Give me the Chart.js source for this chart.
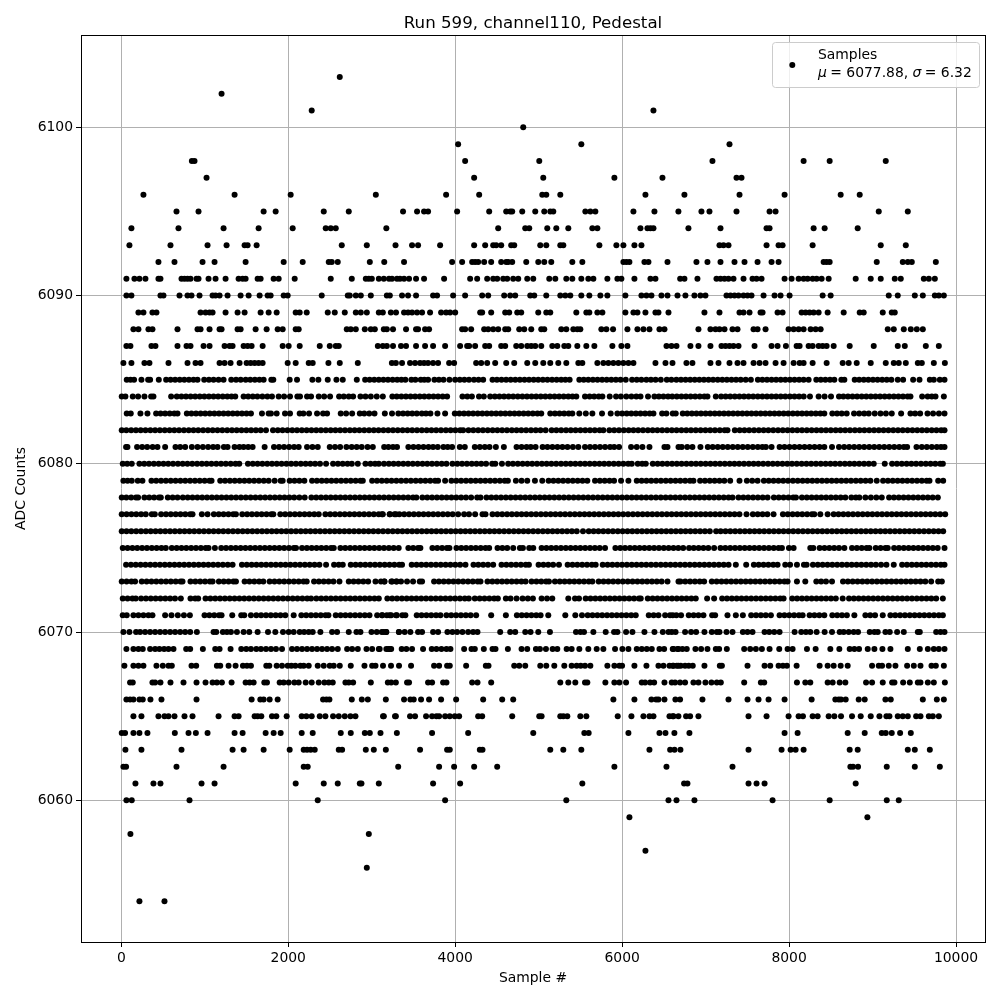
<!DOCTYPE html>
<html>
<head>
<meta charset="utf-8">
<title>Run 599, channel110, Pedestal</title>
<script src="https://cdn.jsdelivr.net/npm/chart.js@4"></script>
<style>
  html, body { margin: 0; padding: 0; background: #fff; }
  canvas { display: block; }
</style>
</head>
<body>
<canvas id="chart" width="1000" height="1000"></canvas>
<script>
// sample numbers, one list per ADC level
const s6103 = [2617];
const s6102 = [1201];
const s6101 = [2281,6375];
const s6100 = [4815];
const s6099 = [4035,5511,7286];
const s6098 = [845,877,4119,5007,7082,8174,8486,9158];
const s6097 = [1021,4227,5055,5907,6483,7370,7430];
const s6096 = [265,1357,2029,3049,3891,4287,5043,5091,5259,6279,6746,7406,7946,8618,8846];
const s6095 = [661,925,1705,1849,2425,2725,3375,3543,3627,3675,4023,4407,4611,4659,4683,4803,4959,5067,5139,5175,5559,5619,5679,6135,6387,6674,6950,7046,7370,7766,7838,9074,9422];
const s6094 = [121,685,1225,1645,2053,2449,2509,2569,3175,4515,4839,4887,5103,5211,5355,5643,5703,6219,6303,6339,6375,6794,7178,7730,7766,8294,8426,8822];
const s6093 = [97,589,1033,1261,1477,1513,1621,2641,2941,3285,3483,3555,3819,4227,4359,4455,4491,4551,4671,4707,5019,5091,5259,5295,5727,5931,6015,6147,6231,7166,7214,7274,7730,7874,7922,8282,9098,9398];
const s6092 = [445,637,973,1117,1489,1945,2173,2485,2521,2593,2977,3150,3387,3963,4083,4203,4239,4275,4347,4431,4551,4611,4635,4683,4851,4995,5067,5151,5403,5523,6015,6051,6087,6267,6315,6543,6890,7022,7178,7346,7466,7622,7790,7874,8414,8450,8486,9050,9362,9422,9470,9758];
const s6091 = [61,157,217,289,445,469,721,757,793,829,901,925,1045,1129,1249,1405,1453,1489,1633,1669,1825,1885,2077,2509,2761,2929,2965,3001,3085,3145,3207,3243,3303,3339,3387,3447,3531,3627,3867,4179,4263,4383,4455,4503,4575,4623,4695,4755,4863,4935,5127,5199,5331,5403,5511,5595,5655,5823,5943,5991,6147,6339,6399,6695,6746,6902,7130,7178,7226,7274,7334,7454,7562,7610,7670,7946,8030,8114,8174,8222,8282,8330,8390,8474,8798,8978,9098,9266,9338,9614,9674,9746];
const s6090 = [61,121,469,505,697,793,841,937,1093,1129,1177,1273,1429,1525,1657,1753,1789,1945,1993,2401,2713,2737,2809,2869,2989,3181,3217,3363,3435,3531,3735,3783,3975,4119,4323,4395,4587,4659,4719,4899,4947,5091,5259,5319,5379,5511,5607,5739,5823,6039,6231,6291,6351,6471,6543,6663,6758,6866,6938,6998,7250,7298,7346,7394,7454,7502,7550,7694,7826,7898,8006,8402,8498,9194,9302,9506,9602,9746,9794,9854];
const s6089 = [205,265,373,421,949,1009,1057,1093,1249,1393,1477,1669,1765,1861,2089,2137,2221,2473,2557,2677,2809,2869,2941,3085,3133,3229,3291,3387,3435,3483,3543,3603,3699,3831,3891,3939,4000,4299,4323,4431,4599,4647,4743,4791,4995,5091,5139,5451,5571,5607,5703,5763,6039,6135,6183,6279,6399,6435,6555,6986,7166,7406,7454,7526,7658,7682,7862,7922,8150,8198,8246,8294,8354,8462,8654,8846,8894,9122,9230,9266];
const s6088 = [145,205,325,373,673,913,949,1057,1177,1201,1393,1429,1609,1741,1873,1933,2089,2125,2701,2749,2809,2917,2989,3037,3145,3181,3255,3411,3531,3555,3639,3687,4083,4119,4191,4347,4395,4455,4515,4599,4635,4767,4827,4911,5031,5067,5271,5331,5415,5463,5499,5751,5811,5891,6063,6183,6255,6327,6447,6507,6914,7058,7118,7166,7226,7322,7382,7574,7622,7718,7994,8054,8114,8174,8258,8318,8378,9182,9254,9374,9458,9530,9602];
const s6087 = [61,109,361,409,673,781,829,985,1057,1237,1297,1333,1465,1513,1561,1693,1933,2005,2137,2377,2497,2569,2605,3073,3133,3181,3255,3351,3411,3531,3639,3735,3879,4059,4143,4167,4239,4359,4407,4551,4599,4731,4791,4863,4911,4959,5031,5163,5223,5307,5355,5463,5571,5667,5883,5991,6063,6531,6591,6651,6818,6914,7058,7190,7238,7286,7334,7394,7586,7790,7862,7962,8090,8126,8234,8282,8354,8402,8450,8534,8726,9014,9302,9386,9638,9794];
const s6086 = [25,121,277,337,565,793,889,949,1177,1237,1309,1417,1501,1549,1597,1645,1693,1993,2089,2245,2293,2481,2617,2833,3241,3289,3363,3459,3519,3579,3627,3675,3735,3795,3927,3987,4251,4311,4383,4479,4611,4707,4863,4959,5055,5139,5235,5331,5475,5523,5703,5775,5835,5895,5955,6015,6075,6135,6399,6519,6603,6770,6842,7058,7154,7286,7382,7454,7574,7646,7718,7838,7934,8054,8126,8174,8282,8450,8642,8714,8810,8978,9158,9254,9314,9398,9542,9590,9734,9866];
const s6085 = [65,110,153,241,321,345,449,537,590,645,700,755,810,865,913,993,1050,1105,1165,1225,1317,1375,1430,1490,1545,1600,1655,1705,1797,1821,2017,2105,2289,2361,2473,2577,2653,2821,2921,2975,3030,3085,3140,3195,3250,3305,3355,3403,3475,3523,3587,3630,3675,3751,3805,3860,3931,3999,4055,4110,4165,4225,4280,4335,4447,4500,4555,4610,4665,4720,4775,4830,4885,4940,4995,5050,5105,5160,5215,5270,5320,5371,5487,5540,5595,5650,5705,5760,5815,5870,5925,5980,6043,6119,6175,6230,6290,6345,6400,6463,6535,6590,6650,6705,6760,6815,6870,6925,6980,7035,7090,7145,7200,7255,7310,7365,7420,7480,7542,7626,7680,7735,7790,7845,7900,7955,8010,8065,8120,8174,8234,8326,8380,8435,8490,8542,8626,8662,8786,8840,8895,8950,9005,9060,9115,9170,9225,9302,9366,9486,9562,9686,9734,9806,9862];
const s6084 = [5,49,137,201,277,357,385,597,665,720,775,830,885,940,995,1050,1105,1160,1215,1270,1320,1365,1465,1520,1575,1630,1690,1750,1805,1885,1950,2021,2109,2141,2225,2273,2365,2430,2501,2609,2665,2725,2777,2865,2925,2989,3060,3133,3247,3300,3355,3410,3465,3520,3575,3630,3685,3740,3795,3850,3903,4087,4145,4200,4285,4343,4419,4475,4530,4585,4640,4695,4750,4805,4860,4915,4970,5025,5080,5135,5190,5245,5300,5355,5405,5451,5555,5610,5665,5720,5763,5851,5927,5985,6050,6111,6170,6220,6310,6387,6440,6495,6550,6600,6655,6710,6765,6820,6875,6930,6985,7022,7122,7186,7240,7295,7350,7405,7460,7515,7570,7625,7680,7735,7790,7845,7900,7955,8010,8065,8120,8175,8250,8354,8425,8502,8598,8650,8705,8760,8815,8870,8925,8980,9035,9090,9145,9200,9255,9310,9365,9420,9454,9594,9660,9710,9754,9854];
const s6083 = [65,113,229,313,417,470,525,580,635,673,785,840,895,950,1005,1060,1115,1170,1225,1280,1335,1390,1445,1500,1553,1685,1765,1793,1861,1961,2021,2137,2181,2249,2345,2417,2465,2629,2693,2765,2857,2910,2970,3033,3157,3243,3319,3375,3430,3485,3540,3600,3650,3703,3787,3879,3995,4050,4105,4160,4215,4270,4325,4380,4435,4490,4545,4600,4655,4710,4765,4820,4875,4930,4985,5031,5139,5195,5250,5305,5360,5403,5487,5565,5643,5759,5863,5943,6000,6055,6110,6165,6220,6275,6330,6375,6479,6530,6606,6642,6726,6780,6835,6890,6945,7000,7055,7110,7165,7220,7275,7330,7385,7440,7495,7550,7605,7660,7715,7770,7825,7880,7935,7990,8045,8100,8155,8210,8265,8320,8375,8422,8518,8575,8630,8690,8778,8840,8900,8954,9026,9095,9160,9230,9342,9454,9510,9570,9658,9725,9795,9862];
const s6082 = [5,60,118,175,232,290,348,405,462,520,578,635,692,750,808,865,922,980,1038,1095,1152,1210,1268,1325,1382,1440,1498,1555,1612,1670,1733,1817,1875,1932,1990,2048,2105,2162,2220,2278,2335,2392,2450,2508,2565,2622,2680,2738,2795,2852,2910,2968,3025,3082,3140,3198,3255,3312,3370,3428,3485,3542,3600,3658,3715,3772,3830,3888,3945,4002,4060,4095,4159,4217,4275,4332,4390,4448,4505,4562,4620,4678,4735,4792,4850,4908,4965,5022,5083,5155,5212,5270,5328,5385,5442,5500,5558,5615,5672,5730,5775,5847,5905,5962,6020,6078,6135,6192,6250,6308,6365,6422,6480,6538,6595,6652,6710,6768,6825,6882,6940,6998,7055,7112,7170,7228,7262,7350,7408,7465,7522,7580,7638,7695,7752,7810,7868,7925,7982,8040,8098,8155,8212,8270,8328,8385,8442,8500,8558,8615,8672,8730,8788,8845,8902,8960,9018,9075,9132,9190,9248,9305,9362,9420,9478,9535,9592,9650,9708,9765,9822,9862];
const s6081 = [57,73,189,250,310,375,433,525,649,705,765,845,913,977,1040,1100,1153,1229,1273,1357,1415,1465,1520,1573,1717,1829,1890,1950,2010,2070,2125,2225,2290,2353,2497,2560,2621,2697,2760,2820,2880,2950,3013,3149,3200,3255,3303,3439,3500,3560,3620,3680,3735,3791,3859,3910,3963,4055,4115,4235,4295,4355,4411,4487,4583,4735,4795,4855,4905,4963,5047,5105,5165,5225,5285,5345,5410,5475,5555,5615,5675,5735,5795,5855,5905,5963,6107,6175,6243,6327,6507,6543,6675,6714,6780,6842,6938,7026,7085,7145,7205,7265,7325,7385,7445,7505,7565,7625,7680,7722,7790,7886,7945,8005,8065,8125,8185,8245,8305,8365,8422,8514,8598,8660,8720,8780,8840,8900,8960,9020,9080,9140,9200,9260,9320,9375,9414,9526,9590,9650,9710,9770,9820,9862];
const s6080 = [17,70,125,217,275,332,390,448,505,562,620,678,735,792,850,908,965,1022,1080,1138,1195,1252,1310,1368,1413,1517,1575,1632,1690,1748,1805,1862,1920,1978,2035,2092,2150,2208,2265,2322,2380,2453,2537,2595,2652,2710,2761,2833,2925,2985,3040,3085,3147,3205,3262,3320,3378,3435,3492,3550,3608,3665,3722,3780,3838,3895,3967,4025,4082,4140,4198,4255,4312,4370,4443,4480,4560,4635,4692,4750,4808,4865,4922,4980,5038,5095,5152,5210,5268,5325,5382,5440,5498,5555,5612,5670,5728,5785,5842,5900,5958,6015,6072,6115,6187,6240,6283,6367,6425,6482,6540,6598,6655,6712,6770,6828,6885,6942,7000,7058,7115,7172,7230,7288,7345,7402,7460,7518,7575,7632,7690,7748,7805,7862,7920,7978,8035,8092,8150,8208,8265,8322,8380,8438,8495,8552,8610,8668,8725,8782,8840,8898,8955,9014,9146,9234,9292,9350,9408,9465,9522,9580,9638,9695,9752,9810,9842];
const s6079 = [25,75,125,197,253,361,418,476,534,592,650,708,766,824,882,940,998,1056,1081,1185,1243,1301,1359,1417,1475,1533,1591,1649,1707,1765,1837,1909,1933,2017,2075,2133,2193,2285,2343,2401,2459,2517,2575,2633,2691,2749,2807,2865,2893,3005,3063,3121,3179,3237,3295,3353,3411,3469,3527,3585,3643,3701,3759,3795,3879,3955,4013,4071,4129,4187,4245,4303,4361,4419,4477,4535,4593,4631,4727,4795,4863,4955,5043,5119,5177,5235,5293,5351,5409,5467,5525,5583,5675,5733,5791,5849,5903,5987,6075,6175,6233,6291,6349,6407,6465,6523,6581,6639,6697,6755,6813,6854,6934,6992,7050,7108,7166,7224,7294,7406,7494,7558,7622,7698,7756,7814,7872,7930,7988,8046,8104,8162,8220,8278,8336,8394,8452,8510,8568,8626,8684,8742,8800,8858,8916,8974,9050,9126,9184,9242,9300,9358,9416,9474,9532,9590,9648,9682,9786,9846];
const s6078 = [5,60,118,176,201,277,335,393,451,473,557,615,673,737,795,853,911,969,1027,1085,1143,1201,1259,1317,1375,1433,1491,1549,1607,1665,1723,1781,1839,1897,1955,2013,2071,2133,2197,2277,2335,2393,2451,2509,2567,2625,2683,2741,2799,2857,2915,2973,3031,3089,3147,3205,3263,3321,3379,3437,3495,3535,3607,3665,3723,3781,3839,3897,3955,4013,4071,4129,4191,4263,4303,4375,4433,4491,4549,4607,4665,4723,4781,4839,4897,4955,5013,5071,5129,5187,5245,5303,5361,5419,5477,5535,5593,5651,5709,5767,5825,5883,5941,5999,6057,6115,6173,6231,6289,6347,6405,6463,6521,6579,6637,6695,6753,6811,6869,6927,6985,7043,7101,7159,7217,7275,7322,7394,7452,7510,7568,7626,7684,7742,7818,7876,7934,7992,8050,8082,8154,8212,8270,8328,8386,8444,8502,8560,8618,8674,8746,8800,8842,8914,8980,9045,9110,9198,9256,9314,9372,9430,9488,9546,9604,9662,9720,9782];
const s6077 = [5,63,121,179,237,293,365,401,477,535,593,651,709,767,825,853,965,1033,1109,1167,1225,1283,1341,1373,1449,1507,1565,1623,1681,1739,1797,1821,1905,1963,2021,2079,2137,2195,2253,2311,2365,2445,2503,2561,2619,2677,2735,2793,2851,2909,2967,3025,3083,3133,3217,3290,3123,3215,3273,3331,3389,3447,3505,3563,3621,3679,3737,3795,3853,3911,3969,4035,4107,4165,4239,4327,4363,4447,4505,4563,4621,4679,4737,4795,4853,4911,4969,5027,5085,5143,5201,5259,5317,5375,5433,5491,5549,5607,5665,5723,5781,5839,5897,5955,6013,6071,6129,6187,6245,6303,6361,6419,6477,6535,6593,6651,6709,6767,6825,6883,6941,6999,7057,7115,7173,7231,7289,7347,7405,7490,7566,7624,7682,7740,7814,7926,7984,8042,8100,8158,8216,8274,8302,8374,8462,8534,8592,8650,8708,8766,8824,8882,8940,8998,9056,9114,9172,9230,9288,9346,9404,9462,9520,9578,9636,9694,9752,9810,9870];
const s6076 = [5,62,120,178,236,294,352,410,468,526,584,642,700,758,816,874,932,990,1048,1106,1164,1222,1280,1338,1396,1454,1512,1570,1628,1686,1744,1802,1860,1918,1976,2034,2092,2150,2208,2266,2324,2382,2440,2498,2556,2614,2672,2730,2788,2846,2904,2962,3020,3078,3136,3194,3252,3310,3368,3426,3484,3542,3600,3658,3716,3774,3832,3890,3948,4006,4064,4122,4180,4238,4296,4354,4412,4470,4528,4586,4644,4702,4760,4818,4876,4934,4992,5050,5108,5166,5224,5282,5340,5398,5456,5531,5600,5658,5716,5774,5832,5890,5948,6006,6064,6122,6180,6238,6296,6354,6412,6470,6528,6586,6644,6702,6760,6818,6876,6934,6992,7050,7126,7180,7238,7296,7354,7412,7470,7528,7586,7644,7702,7760,7818,7876,7934,7992,8050,8108,8166,8224,8282,8340,8398,8456,8514,8572,8630,8688,8746,8804,8862,8920,8978,9036,9094,9152,9210,9268,9326,9384,9442,9500,9558,9616,9674,9732,9790,9846];
const s6075 = [17,75,133,191,249,307,365,423,481,533,605,663,721,779,837,895,953,1011,1045,1121,1197,1255,1313,1371,1429,1487,1545,1603,1661,1719,1777,1835,1893,1951,2009,2067,2093,2165,2223,2281,2339,2397,2455,2513,2545,2625,2683,2741,2799,2857,2915,2973,3031,3089,3147,3205,3263,3323,3439,3497,3555,3583,3727,3785,3843,3901,3931,4015,4073,4131,4189,4247,4305,4363,4407,4507,4565,4623,4695,4775,4811,4887,4935,5035,5093,5151,5209,5267,5325,5383,5441,5499,5557,5615,5673,5731,5795,5919,5977,6035,6093,6151,6209,6267,6325,6383,6441,6499,6557,6615,6673,6731,6802,6858,6916,6974,7032,7102,7178,7236,7294,7352,7410,7468,7526,7584,7642,7700,7758,7816,7874,7914,7998,8054,8254,8290,8366,8424,8482,8540,8598,8662,8754,8812,8870,8928,8962,9038,9096,9154,9182,9258,9316,9374,9432,9490,9548,9606,9664,9722,9780,9862];
const s6074 = [57,115,173,231,289,347,405,463,521,579,637,695,753,811,869,927,985,1043,1101,1159,1217,1275,1333,1445,1503,1561,1619,1677,1735,1793,1851,1909,1967,2025,2083,2141,2199,2257,2315,2373,2453,2549,2605,2653,2749,2807,2865,2923,2981,3039,3097,3155,3213,3271,3329,3363,3479,3537,3595,3653,3711,3769,3827,3885,3943,4001,4059,4123,4219,4277,4335,4393,4455,4555,4613,4671,4729,4787,4845,4883,4999,5057,5115,5173,5243,5347,5405,5463,5521,5579,5637,5683,5767,5825,5883,5941,5999,6057,6115,6173,6231,6289,6347,6405,6463,6521,6579,6637,6695,6753,6811,6869,6927,6985,7043,7101,7159,7217,7275,7362,7486,7578,7636,7694,7752,7810,7862,7954,8012,8094,8178,8210,8286,8344,8402,8460,8518,8576,8634,8692,8750,8808,8866,8924,8982,9040,9102,9166,9254,9354,9412,9470,9528,9586,9644,9702,9760,9818,9862];
const s6073 = [5,63,121,165,245,303,361,419,477,535,593,651,709,733,829,887,945,1003,1061,1093,1169,1227,1285,1343,1373,1477,1535,1593,1651,1701,1777,1835,1893,1951,2009,2067,2125,2183,2221,2309,2367,2425,2483,2541,2613,2725,2783,2841,2899,2957,3045,3153,3245,3300,3110,3150,3235,3293,3351,3423,3495,3575,3603,3747,3805,3863,3921,3979,4037,4095,4153,4211,4269,4303,4387,4445,4503,4561,4619,4677,4735,4793,4843,4915,4973,5031,5089,5123,5195,5253,5311,5369,5427,5485,5543,5601,5643,5719,5777,5835,5893,5951,6009,6067,6125,6183,6241,6299,6357,6415,6473,6543,6675,6698,6756,6814,6872,6930,6982,7074,7132,7190,7248,7306,7364,7422,7480,7538,7596,7654,7712,7770,7828,7886,7944,7982,8094,8194,8326,8384,8442,8514,8646,8704,8762,8820,8878,8936,8994,9052,9110,9168,9226,9284,9342,9400,9458,9516,9574,9632,9702,9786,9830];
const s6072 = [17,75,133,173,237,295,353,411,469,527,585,643,713,829,885,921,1009,1067,1125,1183,1241,1299,1357,1415,1473,1531,1589,1647,1705,1763,1821,1879,1937,1995,2053,2111,2169,2227,2273,2337,2395,2453,2511,2569,2627,2685,2743,2801,2859,2917,2975,3033,3085,3187,3245,3303,3361,3419,3477,3535,3593,3651,3709,3767,3825,3883,3941,3999,4057,4115,4163,4235,4293,4351,4409,4467,4511,4607,4663,4735,4807,4870,4931,5035,5100,5163,5355,5435,5483,5563,5621,5679,5737,5795,5853,5911,5969,6027,6085,6143,6201,6223,6307,6365,6423,6481,6539,6597,6655,6713,6771,6829,6882,7018,7102,7198,7256,7314,7372,7430,7488,7546,7604,7662,7720,7778,7836,7894,7934,8038,8096,8154,8212,8270,8328,8386,8444,8502,8560,8642,8718,8776,8834,8892,8950,9008,9066,9124,9182,9240,9298,9356,9414,9472,9530,9588,9646,9704,9762,9842];
const s6071 = [17,65,145,205,265,325,373,525,601,677,750,821,997,1055,1113,1171,1201,1329,1437,1473,1553,1617,1675,1733,1791,1849,1907,1965,2065,2157,2215,2273,2331,2389,2447,2481,2569,2627,2685,2743,2801,2859,2917,2973,3065,3123,3181,3233,3301,3127,3215,3291,3367,3403,3539,3597,3655,3713,3771,3823,3895,3953,4011,4069,4127,4185,4251,4431,4607,4739,4797,4855,4913,4971,5023,5115,5319,5439,5519,5587,5645,5703,5761,5819,5877,5935,5993,6051,6109,6163,6319,6377,6435,6515,6573,6606,6650,6706,6798,6856,6914,6974,7078,7114,7262,7362,7446,7546,7604,7662,7720,7782,7886,7944,8002,8060,8118,8162,8246,8304,8362,8422,8518,8576,8634,8692,8782,8914,8972,9030,9122,9214,9272,9330,9388,9446,9504,9562,9620,9678,9736,9794,9842];
const s6070 = [25,97,177,225,285,345,405,465,525,585,645,705,765,825,905,1105,1137,1217,1265,1313,1385,1465,1533,1633,1757,1845,1937,2005,2065,2137,2190,2245,2293,2385,2525,2585,2725,2817,2865,2997,3060,3120,3173,3325,3143,3175,3327,3395,3463,3555,3603,3735,3795,3907,3967,4023,4087,4155,4215,4267,4539,4659,4719,4839,4903,4995,5135,5447,5500,5543,5655,5803,5903,5943,6047,6123,6267,6387,6487,6555,6595,6640,6754,6826,6886,6986,7074,7134,7166,7250,7322,7446,7502,7562,7706,7762,7822,7886,8066,8146,8202,8254,8330,8426,8514,8606,8654,8714,8774,8826,8966,9022,9062,9154,9206,9294,9374,9542,9566,9762,9814,9862];
const s6069 = [61,145,205,257,345,405,457,513,565,625,777,825,977,1125,1177,1309,1437,1497,1553,1617,1673,1733,1793,1853,1925,2045,2105,2165,2225,2285,2345,2405,2465,2525,2593,2705,2765,2833,2937,3005,3085,3197,3233,3095,3175,3215,3359,3415,3483,3615,3719,3775,3835,3895,3943,4107,4195,4235,4343,4447,4483,4631,4795,4863,4967,5015,5087,5167,5223,5335,5395,5487,5595,5695,5775,5915,6003,6075,6175,6235,6295,6355,6447,6503,6615,6675,6606,6662,6722,6774,6878,6946,7022,7122,7162,7254,7462,7534,7602,7674,7766,7882,7982,8042,8214,8318,8494,8602,8726,8782,8838,8942,9022,9118,9214,9422,9566,9662,9734,9794,9862];
const s6068 = [37,145,205,265,421,497,565,605,841,897,1145,1185,1285,1369,1457,1505,1553,1737,1773,1861,1925,1993,2037,2085,2145,2185,2245,2353,2425,2497,2545,2617,2749,2913,3005,3045,3135,3231,3327,3471,3747,3807,3903,3935,4131,4367,4399,4707,4767,4839,5019,5091,5187,5307,5395,5455,5503,5555,5619,5823,5907,5967,5999,6147,6291,6435,6495,6567,6615,6675,6606,6654,6702,6754,6798,6846,6986,7170,7195,7502,7706,7774,7874,7926,7974,8090,8366,8462,8534,8618,8702,8994,9074,9114,9194,9274,9414,9494,9574,9706,9758,9854];
const s6067 = [105,137,373,405,469,589,745,901,1009,1093,1145,1205,1321,1489,1537,1585,1713,1745,1897,1945,2005,2073,2125,2209,2281,2365,2433,2485,2533,2685,2725,2777,2989,3193,3233,3289,3423,3447,3675,3723,3855,3895,4203,4267,4431,5259,5355,5439,5555,5583,5799,5907,5967,6047,6235,6275,6335,6383,6507,6594,6634,6694,6754,6854,6914,6998,7070,7134,7182,7462,7662,7702,8094,8194,8254,8462,8522,8606,8674,8922,8994,9122,9234,9262,9366,9446,9542,9574,9662,9734,9866];
const s6066 = [61,105,145,217,257,349,481,901,1561,1665,1705,1777,1873,2417,2457,2493,2761,2881,2953,3169,3387,3463,3503,3591,3687,3831,4011,4335,4563,4695,5895,6147,6351,6407,6435,6507,6638,6694,6962,7274,7502,7634,7754,7946,8270,8554,8594,8622,8678,8834,8906,9154,9218,9602,9770,9854];
const s6065 = [145,241,445,517,565,637,757,853,1165,1357,1405,1597,1633,1677,1805,1857,1981,2161,2217,2281,2377,2445,2537,2605,2677,2745,2805,3145,3289,3135,3279,3459,3519,3651,3723,3775,3807,3879,3935,3995,4047,4275,4323,4683,5007,5035,5259,5295,5343,5499,5571,5947,6111,6255,6327,6375,6567,6615,6606,6674,6766,6814,6914,7514,7730,7994,8114,8166,8282,8342,8474,8542,8622,8754,8858,8978,9082,9166,9202,9302,9362,9422,9522,9574,9674,9722,9794];
const s6064 = [5,45,145,217,313,641,805,893,1033,1357,1453,1729,1825,1909,2161,2293,2629,2749,2917,2977,3105,3301,3723,4155,4935,5547,5599,6075,6447,6519,6626,6806,7946,8102,8702,8906,9110,9158,9230,9330,9458];
const s6063 = [49,241,721,1333,1465,1705,2017,2185,2225,2269,2317,2605,2645,2929,3025,3169,3579,3903,3935,4295,4327,5139,5295,5511,6327,6575,6627,6698,7514,7910,8018,8078,8174,8726,8822,9422,9506,9686];
const s6062 = [25,57,661,1225,2185,2233,3317,3807,3987,4227,4503,5907,6531,7322,8734,8766,8826,9170,9506,9806];
const s6061 = [169,385,469,961,1117,2089,2425,2593,2857,2877,3085,3735,4059,5523,6742,6782,7514,7610,7706,8798];
const s6060 = [61,125,817,2353,3879,5331,6555,6651,6866,7802,8486,9170,9314];
const s6059 = [6087,8938];
const s6058 = [109,2965];
const s6057 = [6279];
const s6056 = [2941];
const s6054 = [217,517];

const levels = [6103,6102,6101,6100,6099,6098,6097,6096,6095,6094,6093,6092,6091,6090,6089,6088,6087,6086,6085,6084,6083,6082,6081,6080,6079,6078,6077,6076,6075,6074,6073,6072,6071,6070,6069,6068,6067,6066,6065,6064,6063,6062,6061,6060,6059,6058,6057,6056,6054];
const samplesPerLevel = [s6103,s6102,s6101,s6100,s6099,s6098,s6097,s6096,s6095,s6094,s6093,s6092,s6091,s6090,s6089,s6088,s6087,s6086,s6085,s6084,s6083,s6082,s6081,s6080,s6079,s6078,s6077,s6076,s6075,s6074,s6073,s6072,s6071,s6070,s6069,s6068,s6067,s6066,s6065,s6064,s6063,s6062,s6061,s6060,s6059,s6058,s6057,s6056,s6054];

const xTicks = [0,2000,4000,6000,8000,10000];
const yTicks = [6060,6070,6080,6090,6100];

const points = [];
levels.forEach(function (level, i) {
    samplesPerLevel[i].forEach(function (s) {
        points.push({x: s, y: level});
    });
});

const font = "'DejaVu Sans'";

// frame on all four sides and the matplotlib style legend box
const frameAndLegend = {
    id: 'frameAndLegend',
    afterLayout(chart) {
        // title is centred over the plot, not over the page
        chart.titleBlock.left = chart.chartArea.left;
        chart.titleBlock.right = chart.chartArea.right;
    },
    afterDraw(chart) {
        const ctx = chart.ctx;
        const a = chart.chartArea;
        ctx.save();
        ctx.strokeStyle = '#000';
        ctx.lineWidth = 1;
        ctx.strokeRect(Math.round(a.left) + 0.5, Math.round(a.top) + 0.5, Math.round(a.right - a.left), Math.round(a.bottom - a.top));

        ctx.fillStyle = 'rgba(255,255,255,0.8)';
        ctx.strokeStyle = '#cccccc';
        ctx.beginPath();
        ctx.roundRect(772.5, 42.5, 207, 45, 3);
        ctx.fill();
        ctx.stroke();

        ctx.fillStyle = '#000';
        ctx.beginPath();
        ctx.arc(792.3, 65, 3, 0, Math.PI * 2);
        ctx.fill();

        ctx.textBaseline = 'alphabetic';
        ctx.textAlign = 'left';
        ctx.font = '13.9px ' + font;
        ctx.fillText('Samples', 818, 59);
        let x = 818;
        const parts = [['\u03bc', true], [' = 6077.88, ', false], ['\u03c3', true], [' = 6.32', false]];
        parts.forEach(function (p) {
            ctx.font = (p[1] ? 'italic ' : '') + '13.9px ' + font;
            ctx.fillText(p[0], x, 77);
            x += ctx.measureText(p[0]).width - (p[1] ? 1 : 0);
        });
        ctx.restore();
    }
};

const chart = new Chart(document.getElementById('chart').getContext('2d'), {
    type: 'scatter',
    data: {
        datasets: [{
            label: 'Samples',
            data: points,
            backgroundColor: '#000',
            borderWidth: 0,
            pointRadius: 3,
            pointHoverRadius: 3
        }]
    },
    plugins: [frameAndLegend],
    options: {
        responsive: false,
        animation: false,
        devicePixelRatio: 1,
        layout: { padding: { left: 0, right: 15, top: 0, bottom: 0 } },
        scales: {
            x: {
                type: 'linear',
                min: -483,
                max: 10347,
                afterBuildTicks(scale) { scale.ticks = xTicks.map(v => ({value: v})); },
                afterFit(scale) { scale.height = 58; },
                grid: { color: '#b0b0b0', lineWidth: 1, tickColor: '#000', tickLength: 5 },
                border: { display: false },
                ticks: { color: '#000', font: { family: font, size: 13.9 }, padding: 3, maxRotation: 0, autoSkip: false, callback: v => String(v) },
                title: { display: true, text: 'Sample #', color: '#000', font: { family: font, size: 13.9 }, padding: { top: 3, bottom: 13 } }
            },
            y: {
                type: 'linear',
                min: 6051.58,
                max: 6105.49,
                afterBuildTicks(scale) { scale.ticks = yTicks.map(v => ({value: v})); },
                afterFit(scale) { scale.width = 81; },
                grid: { color: '#b0b0b0', lineWidth: 1, tickColor: '#000', tickLength: 5 },
                border: { display: false },
                ticks: { color: '#000', font: { family: font, size: 13.9 }, padding: 3, autoSkip: false, callback: v => String(v) },
                title: { display: true, text: 'ADC Counts', color: '#000', font: { family: font, size: 13.9 }, padding: { top: 13, bottom: 0 } }
            }
        },
        plugins: {
            legend: { display: false },
            tooltip: { enabled: false },
            title: {
                display: true,
                text: 'Run 599, channel110, Pedestal',
                color: '#000',
                font: { family: font, size: 16.67, weight: 'normal' },
                padding: { top: 14, bottom: 1 }
            }
        }
    }
});
</script>
</body>
</html>
